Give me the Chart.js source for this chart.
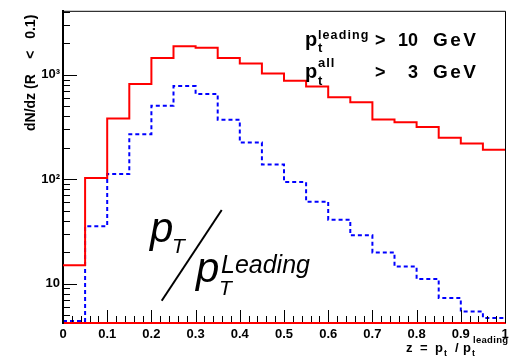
<!DOCTYPE html>
<html><head><meta charset="utf-8">
<script src="https://cdn.jsdelivr.net/npm/chart.js@4"></script>
<style>html,body{margin:0;padding:0;background:#fff;overflow:hidden}</style>
</head><body>
<canvas id="c" width="516" height="360"></canvas>
<script>
// ---- data ----
const binEdges = [0,0.05,0.1,0.15,0.2,0.25,0.3,0.35,0.4,0.45,0.5,0.55,0.6,0.65,0.7,0.75,0.8,0.85,0.9,0.95,1];
const allTracks = [15,103,382,815,1445,1880,1820,1445,1280,1030,877,771,611,545,373,352,316,250,220,192];
const cutTracks = [4.4,35.5,112,270,506,780,656,371,225,138,94,61,41,29,19.9,14.6,11.1,7.3,5.4,4.7];
const xTickLabels = ['0','0.1','0.2','0.3','0.4','0.5','0.6','0.7','0.8','0.9','1'];
const yDecadeLabels = {1:'10',2:'10\u00B2',3:'10\u00B3'};
const yRange = [4.2, 4100];

const FONT = '"Liberation Sans", Arial, Helvetica, sans-serif';

function stepPoints(vals){
  const pts = vals.map((v,i)=>({x:binEdges[i], y:v}));
  pts.push({x:binEdges[binEdges.length-1], y:vals[vals.length-1]});
  return pts;
}

const decor = {
  id:'decor',
  afterDatasetsDraw(chart){
    const {ctx, chartArea:a, scales:{x,y}} = chart;
    ctx.save();
    ctx.strokeStyle='#000'; ctx.lineWidth=1;
    // frame top & right
    ctx.beginPath();
    ctx.moveTo(a.left, a.top+0.5); ctx.lineTo(a.right+0.5, a.top+0.5); ctx.lineTo(a.right+0.5, a.bottom);
    ctx.stroke();
    // y ticks inside
    ctx.beginPath();
    for (let e=0;e<=3;e++) for (let m=1;m<=9;m++){
      const v=m*Math.pow(10,e);
      if (v<y.min||v>y.max) continue;
      const p=Math.round(y.getPixelForValue(v))+0.5;
      const len = m===1?14:7;
      ctx.moveTo(a.left, p); ctx.lineTo(a.left+len, p);
    }
    // x ticks inside
    for (let i=0;i<=50;i++){
      const v=i/50;
      const p=Math.round(x.getPixelForValue(v))+0.5;
      const len = i%5===0?12:6;
      ctx.moveTo(p, a.bottom-1); ctx.lineTo(p, a.bottom-1-len);
    }
    ctx.stroke();
    ctx.restore();
  },
  afterDraw(chart){
    const ctx = chart.ctx;
    ctx.save();
    ctx.fillStyle='#000';
    ctx.textBaseline='alphabetic';
    ctx.textAlign='left';
    const t=(s,x,y,f,ls)=>{ctx.font=f; ctx.letterSpacing=(ls||0)+'px'; ctx.fillText(s,x,y);};
    const B=(n)=>'bold '+n+'px '+FONT;
    const I=(n)=>'italic '+n+'px '+FONT;
    // legend rows
    t('p',305,46,B(20)); t('leading',318,38.5,B(12.5),1.1); t('t',318,52,B(13));
    t('>',375,46,B(18)); t('10',398,46,B(18)); t('GeV',433,46,B(19),2.5);
    t('p',305,78,B(20)); t('all',318,67,B(13),1); t('t',318,85,B(13));
    t('>',375,78,B(18)); t('3',408,78,B(18)); t('GeV',433,78,B(19),2.5);
    // big annotation
    t('p',150,242,I(42)); t('T',172,253,I(21));
    t('p',196,282,I(42)); t('T',219,295,I(21)); t('Leading',221,273,I(25));
    ctx.strokeStyle='#000'; ctx.lineWidth=2;
    ctx.beginPath(); ctx.moveTo(221.7,210); ctx.lineTo(161.7,300.7); ctx.stroke();
    // x axis title
    t('z',406,352,B(13)); t('=',420,352,B(13)); t('p',435,352,B(13)); t('t',444,356,B(9));
    t('/',455,352,B(13)); t('p',463,352,B(13)); t('t',472,356,B(9)); t('leading',473,343,B(9.5),0.3);
    ctx.restore();
  }
};

new Chart(document.getElementById('c'), {
  type:'line',
  data:{datasets:[
    {label:'all', data:stepPoints(allTracks), borderColor:'#ff0000', borderWidth:2, stepped:true, pointRadius:0, fill:false},
    {label:'cut', data:stepPoints(cutTracks), borderColor:'#0000ff', borderWidth:2, borderDash:[4,3], stepped:true, pointRadius:0, fill:false}
  ]},
  options:{
    responsive:false, animation:false, devicePixelRatio:1,
    layout:{padding:{top:6,right:11,left:0,bottom:0}},
    plugins:{legend:{display:false}, tooltip:{enabled:false}},
    scales:{
      x:{type:'linear', min:0, max:1,
        grid:{display:false, drawTicks:false},
        border:{display:true, color:'#ff0000', width:2},
        ticks:{stepSize:0.1, autoSkip:false, maxRotation:0, padding:4, color:'#000',
          font:{family:FONT, weight:'bold', size:13},
          callback:(v)=>{const i=Math.round(v*10); return Math.abs(v*10-i)<1e-6 ? xTickLabels[i] : '';}},
        afterFit:(s)=>{s.height=37;}
      },
      y:{type:'logarithmic', min:yRange[0], max:yRange[1],
        grid:{display:false, drawTicks:false},
        border:{display:true, color:'#000', width:2},
        ticks:{autoSkip:false, padding:3, color:'#000',
          font:{family:FONT, weight:'bold', size:13},
          callback:(v)=>{const l=Math.log10(v); const r=Math.round(l); return Math.abs(l-r)<1e-9 && yDecadeLabels[r] ? yDecadeLabels[r] : '';}},
        title:{display:true, text:'dN/dz (R    <   0.1) ', align:'end', color:'#000',
          font:{family:FONT, weight:'bold', size:14}, padding:{top:23,bottom:0}},
        afterFit:(s)=>{s.width=63;}
      }
    }
  },
  plugins:[decor]
});
</script>
</body></html>
